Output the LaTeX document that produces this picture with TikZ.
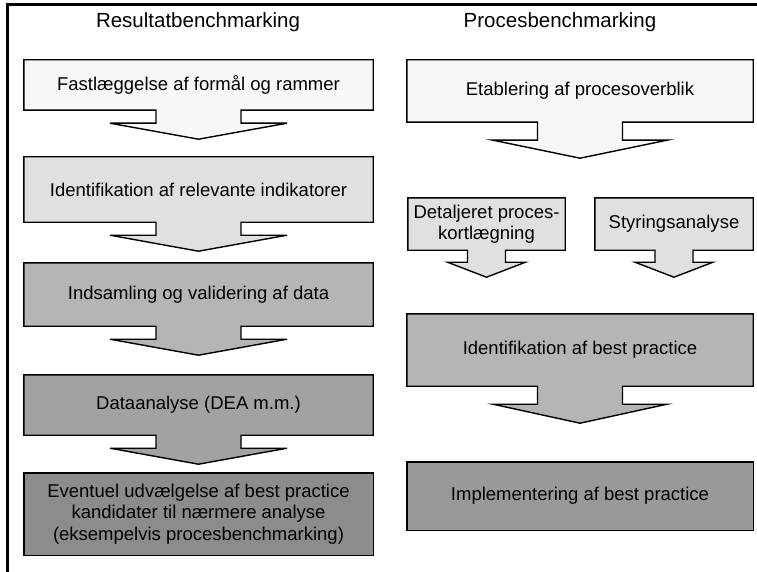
\documentclass[tikz,border=0pt]{standalone}
\usepackage{fontspec}
\setmainfont{Liberation Sans}
\usetikzlibrary{calc,backgrounds}
\definecolor{shadeA}{HTML}{F7F7F7}
\definecolor{shadeB}{HTML}{E0E0E0}
\definecolor{shadeC}{HTML}{B5B5B5}
\definecolor{shadeD}{HTML}{A2A2A2}
\definecolor{shadeE}{HTML}{8C8C8C}
\definecolor{shadeF}{HTML}{999999}
\tikzstyle{stepbox}=[rectangle,inner sep=0pt,align=center,font=\fontsize{18.5}{21.5}\selectfont]
\tikzstyle{boxline}=[draw,line width=1.4pt,line join=miter]
\tikzstyle{heading}=[font=\fontsize{20.5}{24}\selectfont]
\tikzstyle{frame}=[draw,line width=3pt]
% box outline with stem and arrow head below the node
% #1 node, #2 fill, #3 stem half width, #4 stem length, #5 wing half width, #6 head length
\newcommand{\arrowbox}[6]{%
  \begin{pgfonlayer}{background}
  \path[boxline,fill=#2] (#1.north west) -- (#1.north east) -- (#1.south east)
    -- ($(#1.south)+(#3,0)$) -- ($(#1.south)+(#3,#4)$) -- ($(#1.south)+(#5,#4)$)
    -- ($(#1.south)+(0,#4+#6)$) -- ($(#1.south)+(-#5,#4)$) -- ($(#1.south)+(-#3,#4)$)
    -- ($(#1.south)+(-#3,0)$) -- (#1.south west) -- cycle;
  \end{pgfonlayer}}
\newcommand{\plainbox}[2]{%
  \begin{pgfonlayer}{background}
  \path[boxline,fill=#2] (#1.north west) rectangle (#1.south east);
  \end{pgfonlayer}}
\begin{document}
\begin{tikzpicture}[x=1pt,y=-1pt]
  \useasboundingbox (0,0) rectangle (757,572);

  % frame
  \coordinate (ftl) at (7,5);
  \coordinate (ftr) at (757,5);
  \coordinate (fbl) at (7,572);
  \path[frame] (ftr) -- (ftl) -- (fbl);

  % column headings
  \node[heading] (hres) at (198,22) {Resultatbenchmarking};
  \node[heading] (hproc) at (560,22) {Procesbenchmarking};

  % left column
  \foreach \name/\y/\h/\txt in {l1/85/50/{Fastlæggelse af formål og rammer},
      l2/189.5/65/{Identifikation af relevante indikatorer},
      l3/294.5/63/{Indsamling og validering af data},
      l4/405/60/{Dataanalyse (DEA m.m.)},
      l5/514/82/{Eventuel udvælgelse af best practice\\kandidater til nærmere analyse\\(eksempelvis procesbenchmarking)}}
    \node[stepbox,minimum width=349pt,minimum height=\h pt] (\name) at (198.5,\y) {\txt};

  \foreach \name/\col in {l1/shadeA,l2/shadeB,l3/shadeC,l4/shadeD}
    \arrowbox{\name}{\col}{42.5}{13}{88.5}{16};
  \plainbox{l5}{shadeE}

  % right column
  \node[stepbox,minimum width=346pt,minimum height=62pt] (r1) at (580,91) {Etablering af procesoverblik};
  \node[stepbox,minimum width=157pt,minimum height=52pt] (r2a) at (486.5,224) {Detaljeret proces-\\kortlægning};
  \node[stepbox,minimum width=158pt,minimum height=52pt] (r2b) at (674,224) {Styringsanalyse};
  \node[stepbox,minimum width=346pt,minimum height=72pt] (r3) at (580,350) {Identifikation af best practice};
  \node[stepbox,minimum width=346pt,minimum height=68pt] (r4) at (580,496) {Implementering af best practice};

  \arrowbox{r1}{shadeA}{42.5}{18}{87}{18}
  \foreach \name in {r2a,r2b}
    \arrowbox{\name}{shadeB}{19}{12}{39}{15};
  \arrowbox{r3}{shadeC}{42.5}{18}{87}{19}
  \plainbox{r4}{shadeF}
\end{tikzpicture}
\end{document}
